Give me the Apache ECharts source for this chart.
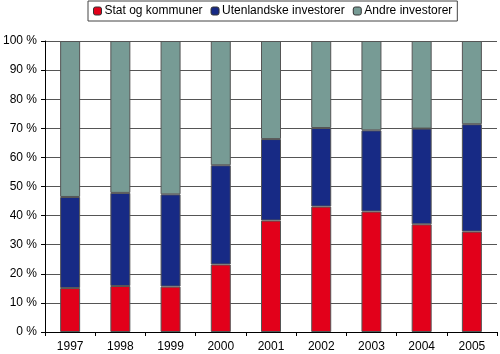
<!DOCTYPE html>
<html>
<head>
<meta charset="utf-8">
<script src="https://cdn.jsdelivr.net/npm/echarts@6/dist/echarts.min.js"></script>
<style>
  html, body { margin: 0; padding: 0; background: #fff; }
  #chart { width: 500px; height: 354px; }
</style>
</head>
<body>
<div id="chart"></div>
<script>
var years = ["1997", "1998", "1999", "2000", "2001", "2002", "2003", "2004", "2005"];
// andel i prosent, lest av figuren
var stat = [15.1, 15.8, 15.6, 23.2, 38.3, 43.1, 41.4, 37.0, 34.5];
var utenlandske = [31.3, 32.0, 31.7, 34.1, 28.0, 27.0, 27.9, 32.9, 36.9];
var andre = [53.6, 52.2, 52.7, 42.7, 33.7, 29.9, 30.7, 30.1, 28.6];
var seriesNames = ["Stat og kommuner", "Utenlandske investorer", "Andre investorer"];
var colors = ["#e2001a", "#172a85", "#779b95"];

var chart = echarts.init(document.getElementById("chart"));

var barStyle = function (c) {
  return { color: c, borderColor: "#555", borderWidth: 1 };
};

chart.setOption({
  animation: false,
  textStyle: { fontFamily: "Liberation Sans, Arial, sans-serif" },
  color: colors,
  legend: {
    left: 88,
    top: 1,
    itemWidth: 8,
    itemHeight: 8,
    itemGap: 8,
    padding: [4, 5, 4, 5],
    borderColor: "#444",
    borderWidth: 1,
    textStyle: { fontSize: 12, color: "#000", padding: [0, 0, 0, -2] },
    data: seriesNames.map(function (n, i) {
      return { name: n, itemStyle: { color: colors[i], borderColor: "#333", borderWidth: 1 } };
    })
  },
  grid: { left: 43, right: 3, top: 41, bottom: 22 },
  xAxis: {
    type: "category",
    data: years,
    axisLine: { lineStyle: { color: "#000" } },
    axisTick: { show: true, length: 4, lineStyle: { color: "#000" } },
    axisLabel: { color: "#000", fontSize: 12, margin: 9 }
  },
  yAxis: {
    type: "value",
    min: 0,
    max: 100,
    interval: 10,
    axisLine: { show: true, lineStyle: { color: "#000" } },
    axisTick: { show: true, length: 4, lineStyle: { color: "#000" } },
    axisLabel: { color: "#000", fontSize: 12, formatter: "{value} %", margin: 8 },
    splitLine: { lineStyle: { color: "#555", width: 1 } }
  },
  series: [
    { name: seriesNames[0], type: "bar", stack: "a", barWidth: 20, data: stat, itemStyle: barStyle(colors[0]) },
    { name: seriesNames[1], type: "bar", stack: "a", barWidth: 20, data: utenlandske, itemStyle: barStyle(colors[1]) },
    { name: seriesNames[2], type: "bar", stack: "a", barWidth: 20, data: andre, itemStyle: barStyle(colors[2]) }
  ]
});
</script>
</body>
</html>
